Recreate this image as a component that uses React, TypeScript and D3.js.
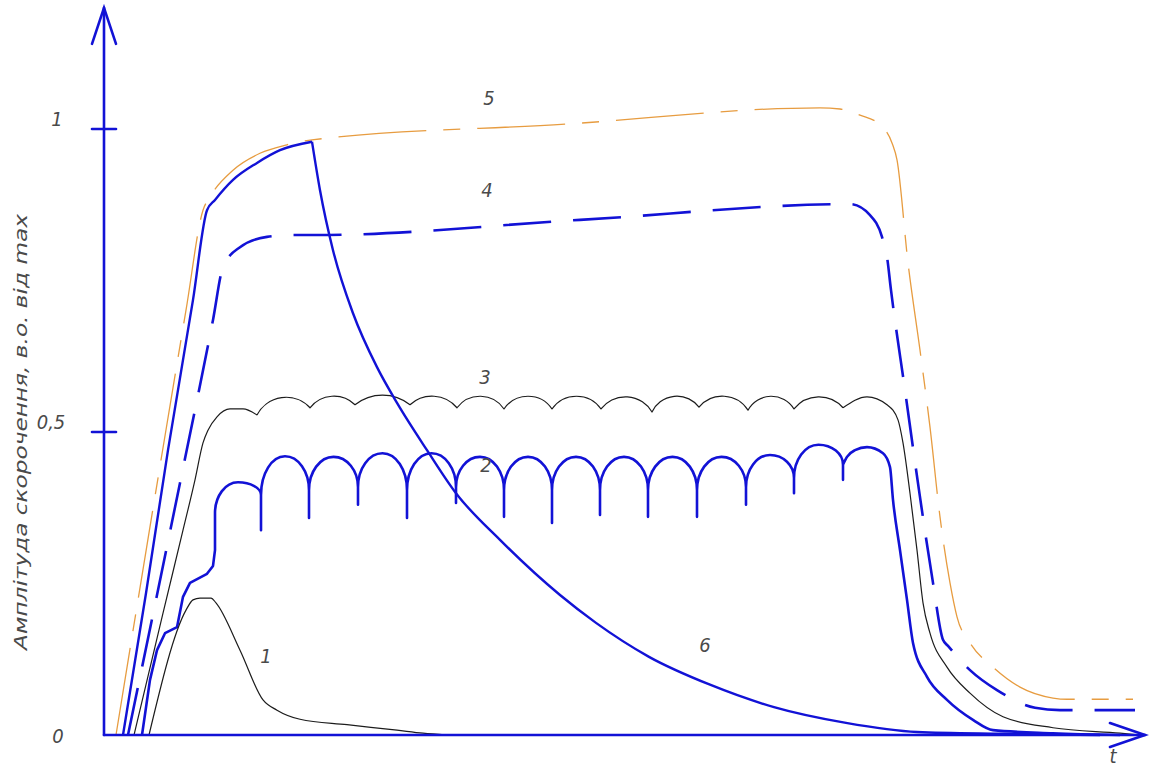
import React from "react";
import * as d3 from "d3";

const W = 1149;
const H = 769;

// Time axis in arbitrary units, amplitude as a fraction of the maximum.
const T_MAX = 1041;
const A_MAX = 1.2;

const yTickValues = [0.5, 1];
const yTickLabels = ["0,5", "1"];
const zeroLabel = "0";
const timeLabel = "t";
const amplitudeTitle = "Амплітуда скорочення, в.о. від max";

type P = [number, number];

// 1 – single twitch
const curve1: P[] = [
  [45, 0], [82, 0.206], [89, 0.223], [96, 0.226], [107, 0.226], [112, 0.218],
  [136, 0.14], [159, 0.058], [173, 0.041], [196, 0.026], [243, 0.017],
  [293, 0.008], [319, 0.003], [343, 0],
];

// 2 – incomplete (serrated) tetanus: rise, cusps between arches, decay
const curve2Rise: P[] = [
  [38, 0], [46, 0.091], [53, 0.14], [61, 0.168], [73, 0.178], [76, 0.203],
  [79, 0.228], [86, 0.251], [103, 0.266], [109, 0.279], [111, 0.305], [111, 0.366],
];
const curve2Cusps = [157, 205, 254, 303, 352, 400, 448, 496, 544, 593, 642, 690, 739];
const curve2CuspBottom = [0.338, 0.358, 0.38, 0.358, 0.383, 0.36, 0.35, 0.363, 0.36, 0.36, 0.38, 0.399, 0.421];
const curve2CuspJoin = [0.396, 0.404, 0.409, 0.404, 0.409, 0.404, 0.404, 0.404, 0.404, 0.404, 0.409, 0.424, 0.446];
const curve2ArchPeak = [0.417, 0.46, 0.459, 0.465, 0.465, 0.459, 0.459, 0.459, 0.459, 0.459, 0.459, 0.462, 0.479];
const curve2Tail: P[] = [
  [739, 0.446], [743, 0.459], [751, 0.47], [763, 0.475], [779, 0.465], [786, 0.442],
  [789, 0.388], [796, 0.305], [803, 0.223], [809, 0.152], [823, 0.096], [843, 0.058],
  [869, 0.025], [889, 0.008], [949, 0.003], [1016, 0],
];

// 3 – incomplete tetanus with shallow ripple
const curve3Rise: P[] = [
  [30, 0], [59, 0.201], [79, 0.338], [91, 0.421], [99, 0.482], [104, 0.503],
  [113, 0.525], [126, 0.538], [139, 0.538], [153, 0.528],
];
const curve3Cusps = [153, 206, 251, 306, 353, 400, 448, 497, 548, 595, 644, 690, 739];
const curve3CuspValue = [0.528, 0.54, 0.545, 0.545, 0.54, 0.538, 0.538, 0.538, 0.533, 0.541, 0.536, 0.538, 0.54];
const curve3ArcPeak = [0.557, 0.559, 0.561, 0.559, 0.559, 0.559, 0.559, 0.558, 0.559, 0.559, 0.559, 0.558];
const curve3Tail: P[] = [
  [739, 0.54], [763, 0.558], [783, 0.545], [794, 0.52], [799, 0.482], [806, 0.399],
  [813, 0.305], [819, 0.218], [826, 0.168], [843, 0.112], [866, 0.069], [899, 0.03],
  [949, 0.012], [1016, 0.003], [1036, 0],
];

// 4 – smooth (complete) tetanus
const curve4: P[] = [
  [24, 0], [76, 0.416], [109, 0.685], [119, 0.772], [136, 0.805], [163, 0.822],
  [189, 0.825], [213, 0.825], [476, 0.85], [746, 0.876], [766, 0.858], [778, 0.822],
  [783, 0.789], [787, 0.734], [801, 0.569], [815, 0.404], [829, 0.251], [839, 0.157],
  [844, 0.147], [866, 0.107], [893, 0.074], [931, 0.045], [956, 0.041], [1031, 0.041],
];

// 5 – maximal tetanus envelope
const curve5: P[] = [
  [12, 0], [82, 0.701], [99, 0.866], [106, 0.888], [129, 0.932], [156, 0.96],
  [183, 0.974], [208, 0.982], [461, 1.008], [716, 1.035], [736, 1.033], [756, 1.023],
  [776, 1.007], [788, 0.977], [793, 0.949], [804, 0.779], [816, 0.635], [826, 0.508],
  [836, 0.36], [846, 0.251], [853, 0.195], [866, 0.152], [889, 0.112], [916, 0.079],
  [949, 0.061], [963, 0.059], [1029, 0.059],
];

// 6 – fatigue: rise to the envelope, then decay
const curve6Rise: P[] = [
  [19, 0], [42, 0.234], [64, 0.47], [89, 0.718], [103, 0.866], [111, 0.883],
  [129, 0.916], [153, 0.944], [176, 0.965], [208, 0.979],
];
const curve6Decay: P[] = [
  [208, 0.979], [216, 0.899], [229, 0.8], [249, 0.696], [273, 0.607], [293, 0.548],
  [323, 0.47], [352, 0.399], [396, 0.322], [456, 0.231], [492, 0.185], [545, 0.129],
  [606, 0.083], [670, 0.046], [742, 0.02], [813, 0.005], [896, 0.002], [996, 0],
];

// Curve numbers placed beside the lines: [label, t, amplitude]
const curveLabels: [string, number, number][] = [
  ["5", 385, 1.04],
  ["4", 383, 0.888],
  ["3", 381, 0.58],
  ["2", 382, 0.434],
  ["1", 162, 0.118],
  ["6", 601, 0.137],
];

const BLUE = "#1212d6";
const ORANGE = "#e79c40";
const BLACK = "#1c1c1c";
const TEXT = "#4a4a4a";
const FONT = "'Liberation Sans Narrow', 'DejaVu Sans Condensed', 'Open Sans', sans-serif";

export default function App() {
  const x = d3.scaleLinear().domain([0, T_MAX]).range([104, 1145]);
  const y = d3.scaleLinear().domain([0, A_MAX]).range([735, 735 - 606 * A_MAX]);

  const smooth = d3
    .line<P>()
    .x((d) => x(d[0]))
    .y((d) => y(d[1]))
    .curve(d3.curveMonotoneX);

  // Curve 2: stepped rise, then rounded arches joined by narrow spikes.
  const p2 = d3.path();
  curve2Rise.forEach((d, i) => (i === 0 ? p2.moveTo(x(d[0]), y(d[1])) : p2.lineTo(x(d[0]), y(d[1]))));
  let ax = x(curve2Rise[curve2Rise.length - 1][0]);
  let ay = y(curve2Rise[curve2Rise.length - 1][1]);
  const k = 0.5523;
  curve2Cusps.forEach((c, i) => {
    const bx = x(c);
    const by = y(curve2CuspJoin[i]);
    const mx = (ax + bx) / 2;
    const my = y(curve2ArchPeak[i]);
    p2.bezierCurveTo(ax, ay - k * (ay - my), mx - k * (mx - ax), my, mx, my);
    p2.bezierCurveTo(mx + k * (bx - mx), my, bx, by - k * (by - my), bx, by);
    p2.lineTo(bx, y(curve2CuspBottom[i]));
    p2.lineTo(bx, by);
    ax = bx;
    ay = by;
  });
  const curve2Path = p2.toString() + (smooth(curve2Tail) ?? "");

  // Curve 3: rise, circular ripples between cusps, decay.
  let arcs = `M${x(curve3Cusps[0])},${y(curve3CuspValue[0])}`;
  for (let i = 0; i < curve3ArcPeak.length; i++) {
    const xa = x(curve3Cusps[i]);
    const ya = y(curve3CuspValue[i]);
    const xb = x(curve3Cusps[i + 1]);
    const yb = y(curve3CuspValue[i + 1]);
    const c = Math.hypot(xb - xa, yb - ya);
    const s = (ya + yb) / 2 - y(curve3ArcPeak[i]);
    const r = (c * c) / 4 / (2 * s) + s / 2;
    arcs += `A${r},${r} 0 0 1 ${xb},${yb}`;
  }
  const curve3Path = (smooth(curve3Rise) ?? "") + arcs + (smooth(curve3Tail) ?? "");

  const curve6Path = (smooth(curve6Rise) ?? "") + (smooth(curve6Decay) ?? "");

  const x0 = x(0);
  const y0 = y(0);
  const yTop = y(A_MAX);
  const xEnd = x(T_MAX);

  const textStyle = {
    fontFamily: FONT,
    fontStyle: "italic" as const,
    fill: TEXT,
  };

  return (
    <svg
      width={W}
      height={H}
      viewBox={`0 0 ${W} ${H}`}
      style={{ position: "absolute", left: 0, top: 0, background: "#fff", display: "block" }}
    >
      <rect x={0} y={0} width={W} height={H} fill="#fff" />

      {/* curves */}
      <g fill="none" strokeLinejoin="round" strokeLinecap="butt">
        <path d={smooth(curve5) ?? ""} stroke={ORANGE} strokeWidth={1.3} strokeDasharray="88 17 17 17" />
        <path d={smooth(curve4) ?? ""} stroke={BLUE} strokeWidth={2.6} strokeDasharray="48 22" />
        <path d={curve3Path} stroke={BLACK} strokeWidth={1.2} />
        <path d={curve2Path} stroke={BLUE} strokeWidth={2.6} />
        <path d={smooth(curve1) ?? ""} stroke={BLACK} strokeWidth={1.2} />
        <path d={curve6Path} stroke={BLUE} strokeWidth={2.4} />
      </g>

      {/* axes */}
      <g stroke={BLUE} strokeWidth={2.6} fill="none" strokeLinecap="round">
        <line x1={x0} y1={y0} x2={x0} y2={yTop} />
        <polyline points={`${x0 - 12},${yTop + 36} ${x0},${yTop} ${x0 + 12},${yTop + 36}`} />
        <line x1={x0} y1={y0} x2={xEnd} y2={y0} />
        <polyline points={`${xEnd - 35},${y0 - 12} ${xEnd},${y0} ${xEnd - 35},${y0 + 12}`} />
        {yTickValues.map((v) => (
          <line key={v} x1={x0 - 12} y1={y(v)} x2={x0 + 12} y2={y(v)} />
        ))}
      </g>

      {/* tick labels */}
      <g style={textStyle} fontSize={20} textAnchor="middle">
        {yTickValues.map((v, i) => (
          <text key={v} x={yTickLabels[i].length > 1 ? x0 - 53 : x0 - 47} y={y(v) - 3}>
            {yTickLabels[i]}
          </text>
        ))}
        <text x={x0 - 46} y={y0 + 8}>{zeroLabel}</text>
        <text x={xEnd - 32} y={y0 + 28}>{timeLabel}</text>
      </g>

      {/* curve numbers */}
      <g style={textStyle} fontSize={20} textAnchor="middle">
        {curveLabels.map(([label, t, v]) => (
          <text key={label} x={x(t)} y={y(v)}>
            {label}
          </text>
        ))}
      </g>

      {/* amplitude axis title */}
      <text
        transform={`translate(27, 432) rotate(-90)`}
        style={textStyle}
        fontSize={18}
        textAnchor="middle"
        textLength={436}
        lengthAdjust="spacingAndGlyphs"
      >
        {amplitudeTitle}
      </text>
    </svg>
  );
}
